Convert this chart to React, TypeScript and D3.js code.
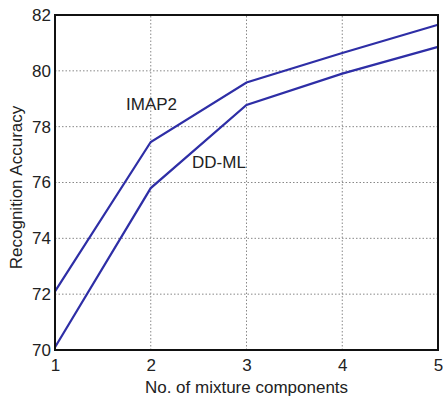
import React, { useEffect, useRef } from "react";
import * as d3 from "d3";

const components = [1, 2, 3, 4, 5];
const imap2 = [72.1, 77.45, 79.58, 80.64, 81.65];
const ddml = [70.1, 75.8, 78.78, 79.9, 80.86];
const yTicks = [70, 72, 74, 76, 78, 80, 82];

const W = 443;
const H = 396;
const m = { left: 55, right: 5, top: 15, bottom: 46 };

export default function App() {
  const svgRef = useRef<SVGSVGElement>(null);

  useEffect(() => {
    const svg = d3.select(svgRef.current);
    svg.selectAll("*").remove();
    const font = "Liberation Sans, Arial, sans-serif";
    const fs = 17;

    const x = d3.scaleLinear().domain([1, 5]).range([m.left, W - m.right]);
    const y = d3.scaleLinear().domain([70, 82]).range([H - m.bottom, m.top]);

    svg.append("rect").attr("width", W).attr("height", H).attr("fill", "#fff");

    // grid
    const grid = svg.append("g").attr("stroke", "#888").attr("stroke-width", 1).attr("stroke-dasharray", "1.5,2");
    grid
      .selectAll(".gx")
      .data(components.slice(1, -1))
      .join("line")
      .attr("x1", (d) => x(d))
      .attr("x2", (d) => x(d))
      .attr("y1", y(70))
      .attr("y2", y(82));
    grid
      .selectAll(".gy")
      .data(yTicks.slice(1, -1))
      .join("line")
      .attr("x1", x(1))
      .attr("x2", x(5))
      .attr("y1", (d) => y(d))
      .attr("y2", (d) => y(d));

    // lines
    const line = d3
      .line<number>()
      .x((_, i) => x(components[i]))
      .y((d) => y(d));
    [imap2, ddml].forEach((s) => {
      svg
        .append("path")
        .attr("d", line(s))
        .attr("fill", "none")
        .attr("stroke", "#2e2ea6")
        .attr("stroke-width", 2.2);
    });

    // frame
    svg
      .append("rect")
      .attr("x", x(1))
      .attr("y", y(82))
      .attr("width", x(5) - x(1))
      .attr("height", y(70) - y(82))
      .attr("fill", "none")
      .attr("stroke", "#111")
      .attr("stroke-width", 2);

    // axes
    const xAxis = svg
      .append("g")
      .attr("transform", `translate(0,${y(70)})`)
      .call(d3.axisBottom(x).tickValues(components).tickFormat(d3.format("d")).tickSize(0).tickPadding(9));
    xAxis.select(".domain").remove();
    xAxis.selectAll("text").attr("font-size", fs).attr("font-family", font).attr("fill", "#222");

    const yAxis = svg
      .append("g")
      .attr("transform", `translate(${x(1)},0)`)
      .call(d3.axisLeft(y).tickValues(yTicks).tickSize(0).tickPadding(4));
    yAxis.select(".domain").remove();
    yAxis.selectAll("text").attr("font-size", fs).attr("font-family", font).attr("fill", "#222");

    svg
      .append("text")
      .attr("x", (x(1) + x(5)) / 2)
      .attr("y", 393)
      .attr("text-anchor", "middle")
      .attr("font-size", fs)
      .attr("font-family", font)
      .attr("fill", "#222")
      .text("No. of mixture components");

    svg
      .append("text")
      .attr("transform", `translate(22,${(y(70) + y(82)) / 2 + 5}) rotate(-90)`)
      .attr("text-anchor", "middle")
      .attr("font-size", fs)
      .attr("font-family", font)
      .attr("fill", "#222")
      .text("Recognition Accuracy");

    svg
      .append("text")
      .attr("x", 126)
      .attr("y", 110)
      .attr("font-size", fs)
      .attr("font-family", font)
      .attr("fill", "#222")
      .text("IMAP2");
    svg
      .append("text")
      .attr("x", 192)
      .attr("y", 168)
      .attr("font-size", fs)
      .attr("font-family", font)
      .attr("fill", "#222")
      .text("DD-ML");
  }, []);

  return (
    <svg
      ref={svgRef}
      width={W}
      height={H}
      style={{ position: "absolute", left: 0, top: 0, display: "block" }}
    />
  );
}
